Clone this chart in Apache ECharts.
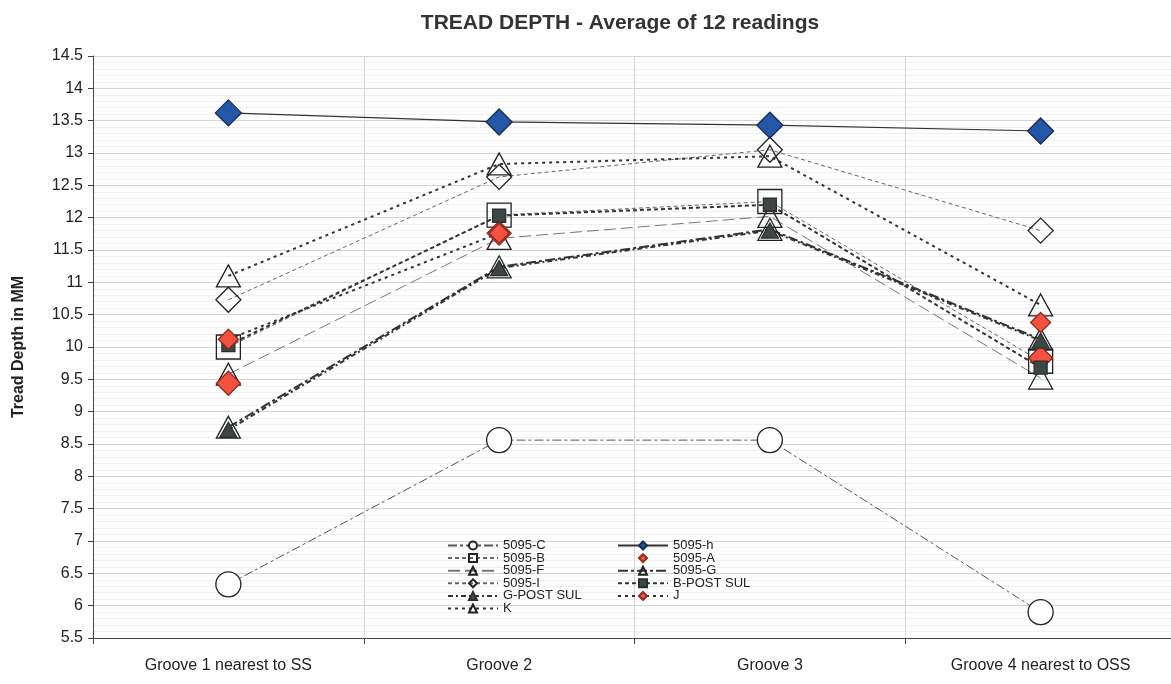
<!DOCTYPE html>
<html>
<head>
<meta charset="utf-8">
<script src="https://cdn.jsdelivr.net/npm/echarts@6/dist/echarts.min.js"></script>
<style>
html,body{margin:0;padding:0;background:#fff;}
#chart{width:1171px;height:684px;}
</style>
</head>
<body>
<div id="chart"></div>
<script>
var categories = ['Groove 1 nearest to SS', 'Groove 2', 'Groove 3', 'Groove 4 nearest to OSS'];
var s5095C = [6.33, 8.56, 8.56, 5.90];
var s5095h = [13.62, 13.48, 13.43, 13.34];
var s5095B = [10.00, 12.04, 12.25, 9.78];
var s5095A = [9.44, 11.76, null, 9.83];
var s5095F = [9.58, 11.68, 12.02, 9.52];
var s5095G = [8.76, 11.24, 11.82, 10.12];
var s5095I = [10.73, 12.63, 13.05, 11.80];
var sBPost = [10.03, 12.03, 12.20, 9.68];
var sGPost = [8.72, 11.22, 11.80, 10.10];
var sJ = [10.12, 11.76, null, 10.38];
var sK = [11.10, 12.83, 12.95, 10.65];
var legendCol1 = ['5095-C', '5095-B', '5095-F', '5095-I', 'G-POST SUL', 'K'];
var legendCol2 = ['5095-h', '5095-A', '5095-G', 'B-POST SUL', 'J'];

var FONT = 'Liberation Sans, Arial, sans-serif';
var WHITE = 'rgba(255,255,255,0)';

function mk(name, data, symbol, size, fill, border, lineColor, lineType, lineWidth) {
  return {
    name: name, type: 'line', data: data,
    symbol: symbol, symbolSize: size,
    itemStyle: {color: fill, borderColor: border, borderWidth: 1.3},
    lineStyle: {color: lineColor, type: lineType, width: lineWidth, opacity: lineWidth > 0 ? 1 : 0},
    emphasis: {disabled: true},
    animation: false
  };
}

var series = [
  mk('5095-C', s5095C, 'circle', 25, '#ffffff', '#222', '#555', [9, 3, 3, 3], 1),
  mk('5095-h', s5095h, 'diamond', 26, '#2457a8', '#1a2a55', '#333', 'solid', 1.2),
  mk('5095-B', s5095B, 'rect', 24, WHITE, '#222', '#666', [4, 3], 1),
  mk('5095-F', s5095F, 'triangle', [24, 22], WHITE, '#222', '#777', [12, 5], 1),
  mk('5095-G', s5095G, 'triangle', [24, 22], WHITE, '#222', '#333', [10, 3, 3, 3], 2),
  mk('5095-I', s5095I, 'diamond', 25, WHITE, '#222', '#666', [4, 3], 1),
  mk('K', sK, 'triangle', [24, 22], WHITE, '#222', '#333', [3, 4], 2),
  mk('5095-A', s5095A, 'diamond', 24, '#f4513f', '#8a2a20', '#000', 'solid', 0),
  mk('B-POST SUL', sBPost, 'rect', 13, '#3d4744', '#2a302e', '#333', [4, 3], 2),
  mk('G-POST SUL', sGPost, 'triangle', [17, 15], '#3d4744', '#2a302e', '#333', [5, 3, 2, 3], 2),
  mk('J', sJ, 'diamond', 20, '#f4513f', '#8a2a20', '#333', [3, 4], 2)
];

var legendCommon = {
  orient: 'vertical', top: 539, itemWidth: 50, itemHeight: 10, itemGap: -0.4,
  textStyle: {fontFamily: FONT, fontSize: 13, color: '#222', lineHeight: 11, padding: 0},
  selectedMode: false, padding: 0
};

var chart = echarts.init(document.getElementById('chart'), null, {renderer: 'canvas'});
chart.setOption({
  backgroundColor: '#ffffff',
  animation: false,
  title: {
    text: 'TREAD DEPTH - Average of 12 readings',
    left: 615, top: 8, textAlign: 'center',
    textStyle: {fontFamily: FONT, fontSize: 21, fontWeight: 'bold', color: '#333'}
  },
  legend: [
    Object.assign({}, legendCommon, {left: 447, data: legendCol1}),
    Object.assign({}, legendCommon, {left: 617, data: legendCol2})
  ],
  grid: {left: 93, width: 1083, top: 56, bottom: 46, containLabel: false, outerBoundsMode: 'none'},
  xAxis: {
    type: 'category', data: categories, boundaryGap: true,
    axisLine: {lineStyle: {color: '#444', width: 1}},
    axisTick: {show: true, length: 6, lineStyle: {color: '#444'}},
    axisLabel: {fontFamily: FONT, fontSize: 16, color: '#222', margin: 20},
    splitLine: {show: true, lineStyle: {color: '#d6d6d6', width: 1}}
  },
  yAxis: {
    type: 'value', min: 5.5, max: 14.5, interval: 0.5,
    name: 'Tread Depth in MM', nameLocation: 'middle', nameGap: 66,
    nameTextStyle: {fontFamily: FONT, fontSize: 16, fontWeight: 'bold', color: '#222'},
    axisLine: {show: true, lineStyle: {color: '#444', width: 1}},
    axisTick: {show: true, length: 5, lineStyle: {color: '#444'}},
    axisLabel: {fontFamily: FONT, fontSize: 16, color: '#222', margin: 10},
    splitLine: {show: true, lineStyle: {color: '#d4d4d4', width: 1}},
    minorTick: {show: false, splitNumber: 5},
    minorSplitLine: {show: true, lineStyle: {color: '#f0f0f0', width: 1}}
  },
  series: series
});
</script>
</body>
</html>
